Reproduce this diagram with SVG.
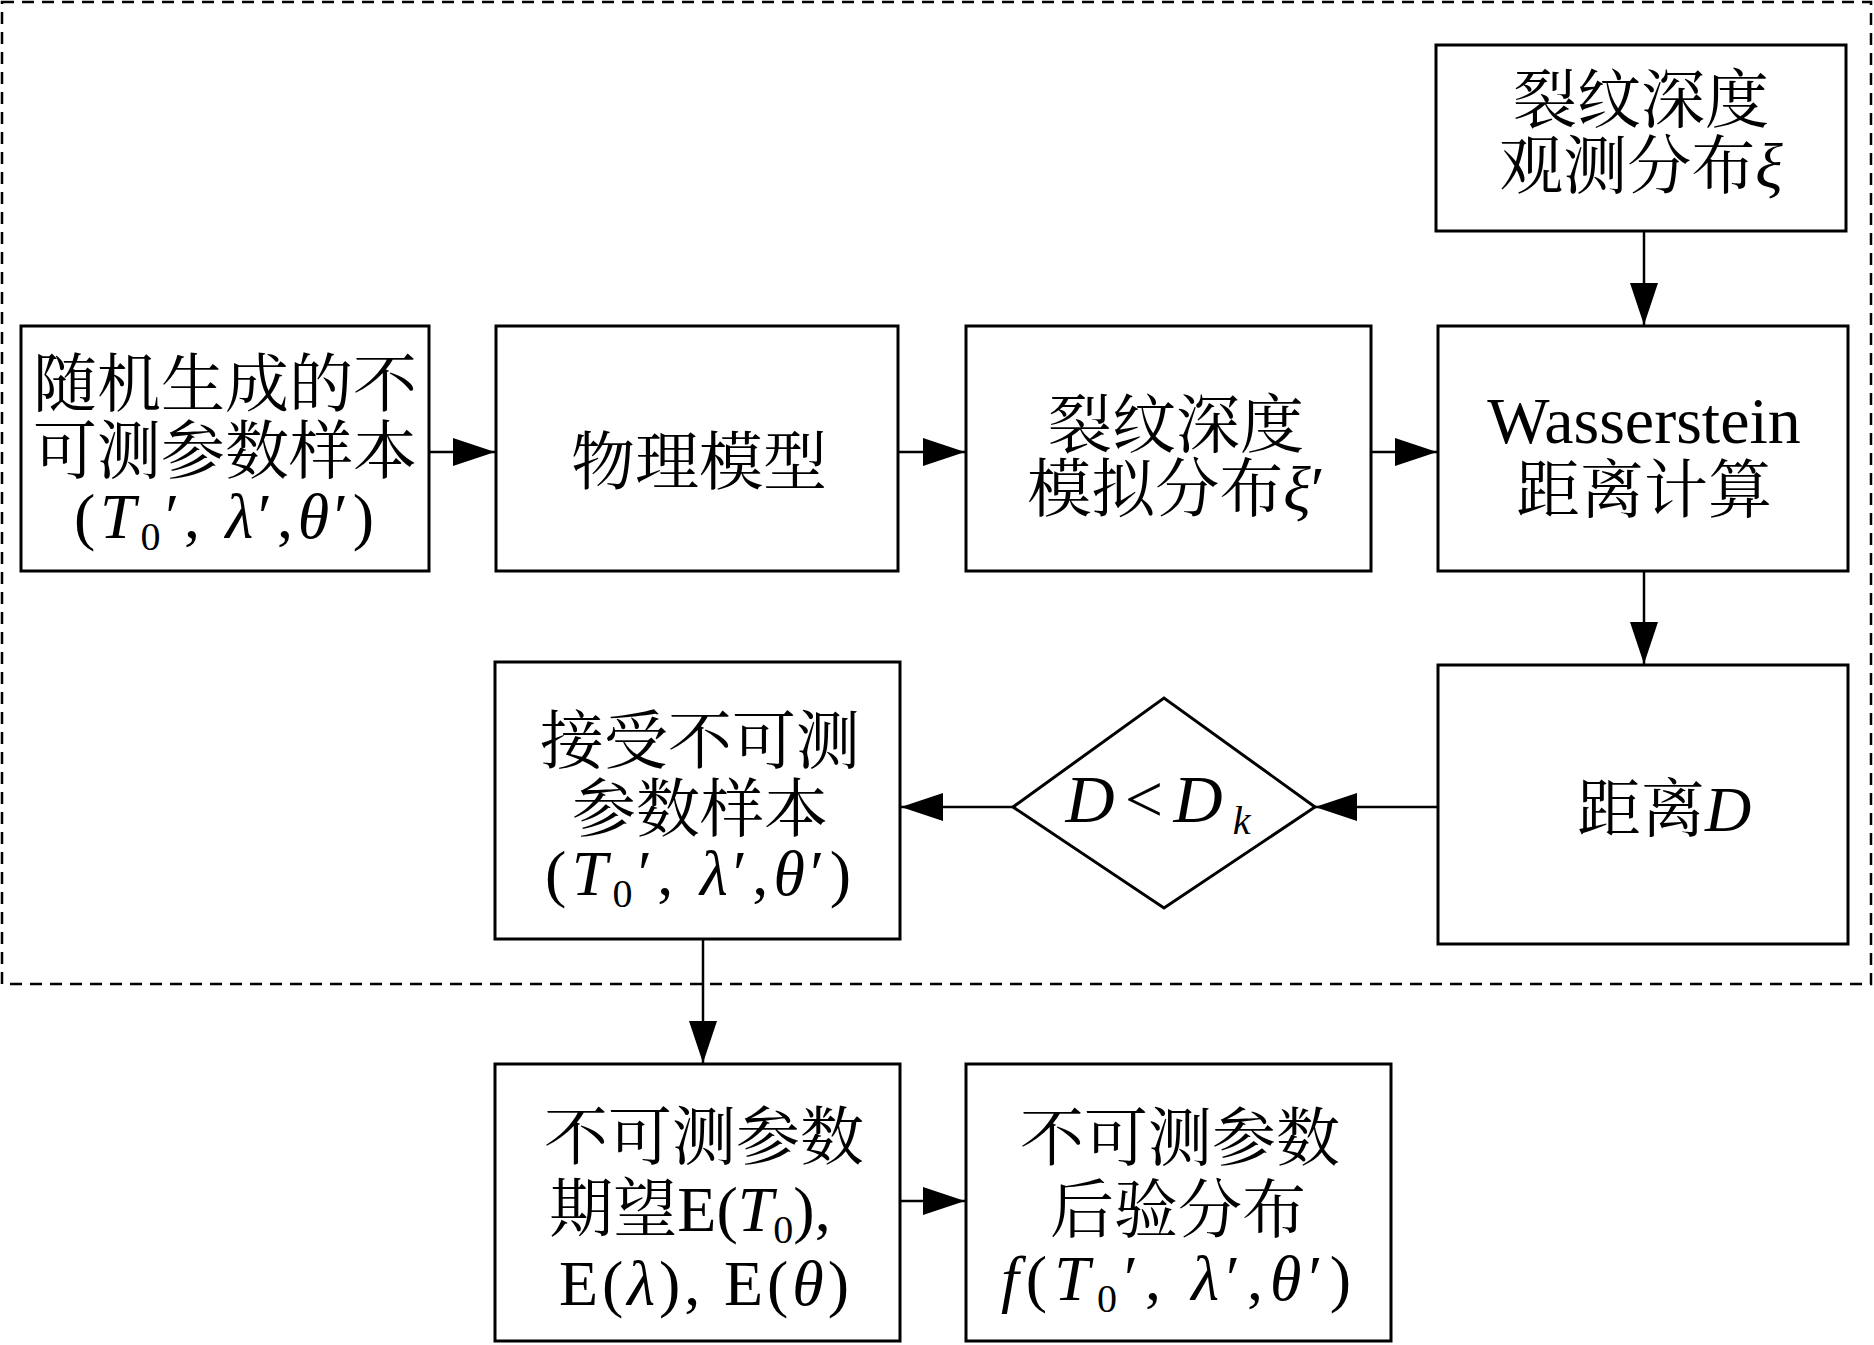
<svg xmlns="http://www.w3.org/2000/svg" width="1874" height="1345" viewBox="0 0 1874 1345">
<style>
.box{fill:#fff;stroke:#000;stroke-width:3}
.dash{fill:none;stroke:#000;stroke-width:2.5;stroke-dasharray:12 8}
.t{font-family:"Liberation Serif","Noto Serif CJK SC","Noto Sans CJK SC",serif;font-size:64px;text-anchor:middle;fill:#000}
.i{font-style:italic}
.sub{font-size:40px}
.conn{stroke:#000;stroke-width:2.5;fill:none;marker-end:url(#ah)}
</style>
<defs>
<marker id="ah" viewBox="0 0 42 28" refX="42" refY="14" markerWidth="42" markerHeight="28" markerUnits="userSpaceOnUse" orient="auto">
<path d="M0,0 L42,14 L0,28 Z" fill="#000"/>
</marker>
</defs>
<rect class="dash" x="2" y="2" width="1869" height="982"/>
<g id="connectors">
<line class="conn" x1="429" y1="452" x2="495" y2="452"/>
<line class="conn" x1="898" y1="452" x2="965" y2="452"/>
<line class="conn" x1="1371" y1="452" x2="1437" y2="452"/>
<line class="conn" x1="1644" y1="231" x2="1644" y2="325"/>
<line class="conn" x1="1644" y1="571" x2="1644" y2="664"/>
<line class="conn" x1="1438" y1="807" x2="1315" y2="807"/>
<line class="conn" x1="1013" y1="807" x2="901" y2="807"/>
<line class="conn" x1="703" y1="939" x2="703" y2="1063"/>
<line class="conn" x1="900" y1="1201" x2="965" y2="1201"/>
</g>
<g id="n1">
<rect class="box" x="21" y="326" width="408" height="245"/>
<text class="t" x="225" y="406">随机生成的不</text>
<text class="t" x="225" y="473">可测参数样本</text>
<text class="t" x="224" y="538" textLength="300" lengthAdjust="spacing">(<tspan class="i">T</tspan><tspan class="sub" dy="12">0</tspan><tspan dy="-12">′, </tspan><tspan class="i">λ</tspan>′,<tspan class="i">θ</tspan>′)</text>
</g>
<g id="n2">
<rect class="box" x="496" y="326" width="402" height="245"/>
<text class="t" x="699" y="484">物理模型</text>
</g>
<g id="n3">
<rect class="box" x="966" y="326" width="405" height="245"/>
<text class="t" x="1176" y="447">裂纹深度</text>
<text class="t" x="1176" y="511">模拟分布<tspan class="i">ξ</tspan>′</text>
</g>
<g id="n4">
<rect class="box" x="1436" y="45" width="410" height="186"/>
<text class="t" x="1641" y="122">裂纹深度</text>
<text class="t" x="1641" y="188">观测分布<tspan class="i">ξ</tspan></text>
</g>
<g id="n5">
<rect class="box" x="1438" y="326" width="410" height="245"/>
<text class="t" x="1644" y="443" style="font-size:66px">Wasserstein</text>
<text class="t" x="1644" y="512">距离计算</text>
</g>
<g id="n6">
<rect class="box" x="1438" y="665" width="410" height="279"/>
<text class="t" x="1577" y="831" style="text-anchor:start">距离<tspan class="i">D</tspan></text>
</g>
<g id="n7">
<polygon class="box" points="1013,807 1164,698 1315,807 1164,908"/>
<text class="t" x="1158" y="822" style="font-size:68px" textLength="185" lengthAdjust="spacing"><tspan class="i">D</tspan>&lt;<tspan class="i">D</tspan><tspan class="sub i" dy="12">k</tspan></text>
</g>
<g id="n8">
<rect class="box" x="495" y="662" width="405" height="277"/>
<text class="t" x="700" y="763">接受不可测</text>
<text class="t" x="700" y="831">参数样本</text>
<text class="t" x="698" y="895" textLength="306" lengthAdjust="spacing">(<tspan class="i">T</tspan><tspan class="sub" dy="12">0</tspan><tspan dy="-12">′, </tspan><tspan class="i">λ</tspan>′,<tspan class="i">θ</tspan>′)</text>
</g>
<g id="n9">
<rect class="box" x="495" y="1064" width="405" height="277"/>
<text class="t" x="704" y="1159">不可测参数</text>
<text class="t" x="690" y="1231">期望E(<tspan class="i">T</tspan><tspan class="sub" dy="12">0</tspan><tspan dy="-12">),</tspan></text>
<text class="t" x="704" y="1305" textLength="290" lengthAdjust="spacing">E(<tspan class="i">λ</tspan>), E(<tspan class="i">θ</tspan>)</text>
</g>
<g id="n10">
<rect class="box" x="966" y="1064" width="425" height="277"/>
<text class="t" x="1180" y="1160">不可测参数</text>
<text class="t" x="1178" y="1232">后验分布</text>
<text class="t" x="1176" y="1300" textLength="350" lengthAdjust="spacing"><tspan class="i">f</tspan>(<tspan class="i">T</tspan><tspan class="sub" dy="12">0</tspan><tspan dy="-12">′, </tspan><tspan class="i">λ</tspan>′,<tspan class="i">θ</tspan>′)</text>
</g>
</svg>
